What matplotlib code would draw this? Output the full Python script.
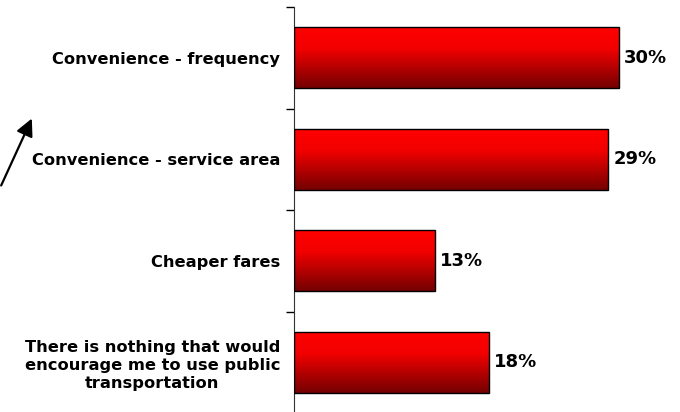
import matplotlib.pyplot as plt
import numpy as np
from matplotlib.colors import LinearSegmentedColormap
from matplotlib.patches import FancyArrowPatch

categories = [
    "Convenience - frequency",
    "Convenience - service area",
    "Cheaper fares",
    "There is nothing that would\nencourage me to use public\ntransportation",
]
values = [30, 29, 13, 18]
labels = ["30%", "29%", "13%", "18%"]

redGrad = LinearSegmentedColormap.from_list(
    "redgrad", [(0.0, "#ff0000"), (0.35, "#f20000"), (1.0, "#740000")]
)

fig = plt.figure(figsize=(6.8, 4.12), dpi=100)
ax = fig.add_axes([294 / 680, -1 / 412, 379 / 680, 406 / 412])

pos = np.arange(len(categories))
bars = ax.barh(pos, values, height=0.6, color="none", edgecolor="black",
               linewidth=1, zorder=3)

grad = np.linspace(0, 1, 256).reshape(-1, 1)
for bar in bars:
    x0, y0 = bar.get_x(), bar.get_y()
    w, h = bar.get_width(), bar.get_height()
    # y axis is inverted, so the top of the bar is y0
    ax.imshow(grad, cmap=redGrad, aspect="auto", origin="upper",
              extent=(x0, x0 + w, y0 + h, y0), zorder=2)

for bar, lab in zip(bars, labels):
    ax.text(bar.get_width() + 0.5, bar.get_y() + bar.get_height() / 2, lab,
            va="center", ha="left", fontsize=13, fontweight="bold")

ax.set_xlim(0, 35)
ax.set_ylim(3.5, -0.5)

ax.set_yticks(pos)
ax.set_yticklabels(categories, fontsize=11.7, fontweight="bold", linespacing=1.25)
for t in ax.get_yticklabels():
    t.set_multialignment("center")
ax.tick_params(axis="y", which="major", length=0, pad=10)
ax.set_yticks(np.arange(-0.5, 4, 1), minor=True)
ax.tick_params(axis="y", which="minor", length=6, width=1, direction="out")
ax.set_xticks([])

for side in ["top", "right", "bottom"]:
    ax.spines[side].set_visible(False)
ax.spines["left"].set_color("#333333")

fig.patches.append(FancyArrowPatch(
    (0 / 680, 1 - 188 / 412), (33 / 680, 1 - 116 / 412),
    transform=fig.transFigure, arrowstyle="-|>", mutation_scale=26,
    color="black", linewidth=1.6))

fig.savefig("out.png", dpi=100)
